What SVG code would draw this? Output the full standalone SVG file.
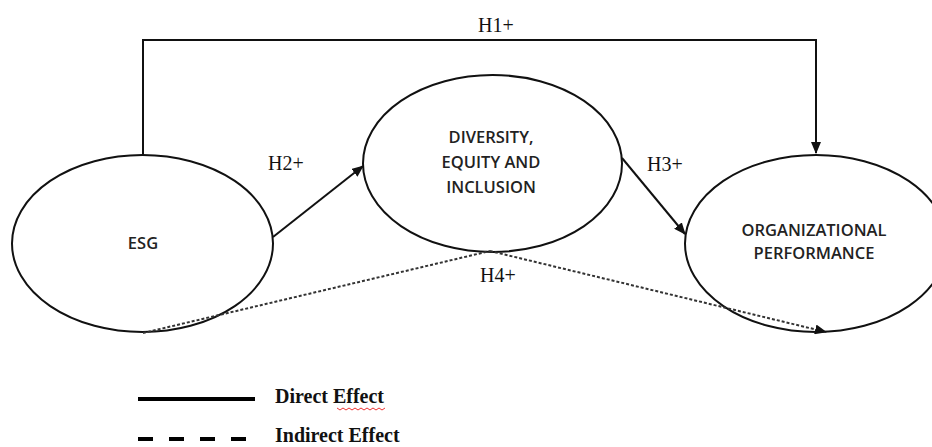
<svg xmlns="http://www.w3.org/2000/svg" width="932" height="447" viewBox="0 0 932 447">
<style>
.node ellipse{fill:#fff;stroke:#111;stroke-width:2}
.nl{font-family:"Open Sans","Liberation Sans",sans-serif;font-size:16.5px;font-weight:600;fill:#222;text-anchor:middle}
.hl{font-family:"Liberation Serif","Times New Roman",serif;font-size:20px;fill:#111}
.solid{fill:none;stroke:#111;stroke-width:2}
.dot{fill:none;stroke:#333;stroke-width:2;stroke-dasharray:3 2}
</style>
<defs>
<marker id="ah" markerWidth="12" markerHeight="10" refX="11" refY="5" orient="auto" markerUnits="userSpaceOnUse">
<path d="M0,0 L12,5 L0,10 Z" fill="#111"/>
</marker>
</defs>
<rect width="932" height="447" fill="#fff"/>
<g id="esg" class="node">
<ellipse cx="142.5" cy="243.5" rx="130.5" ry="88.5"/>
<text class="nl" x="143" y="249">ESG</text>
</g>
<g id="dei" class="node">
<ellipse cx="492.5" cy="163.5" rx="129.5" ry="88.5"/>
<text class="nl" x="491" y="143">DIVERSITY,</text>
<text class="nl" x="491" y="168">EQUITY AND</text>
<text class="nl" x="491" y="193">INCLUSION</text>
</g>
<g id="op" class="node">
<ellipse cx="816" cy="243.5" rx="131" ry="88.5"/>
<text class="nl" x="814" y="236">ORGANIZATIONAL</text>
<text class="nl" x="814" y="259">PERFORMANCE</text>
</g>
<g id="connectors">
<path class="solid" d="M143,155 V40 H816 V153" marker-end="url(#ah)"/>
<path class="solid" d="M273,237 L363,166" marker-end="url(#ah)"/>
<path class="solid" d="M622,158 L685,234" marker-end="url(#ah)"/>
<path class="dot" d="M143,333 L490,251"/>
<path class="dot" d="M490,251 L826,332" marker-end="url(#ah)"/>
</g>
<g id="labels">
<text class="hl" x="478" y="32">H1+</text>
<text class="hl" x="268" y="170">H2+</text>
<text class="hl" x="647" y="171">H3+</text>
<text class="hl" x="480" y="282">H4+</text>
</g>
<g id="legend">
<line x1="138" y1="399" x2="255" y2="399" stroke="#000" stroke-width="4"/>
<line x1="138" y1="439" x2="250" y2="439" stroke="#000" stroke-width="4" stroke-dasharray="15 16"/>
<text class="hl" x="275" y="403" font-weight="bold">Direct Effect</text>
<text class="hl" x="275" y="442" font-weight="bold">Indirect Effect</text>
<path d="M337,408 l3,2 l3,-2 l3,2 l3,-2 l3,2 l3,-2 l3,2 l3,-2 l3,2 l3,-2 l3,2 l3,-2 l3,2 l3,-2 l3,2 l3,-2" fill="none" stroke="#e33" stroke-width="1"/>
</g>
</svg>
